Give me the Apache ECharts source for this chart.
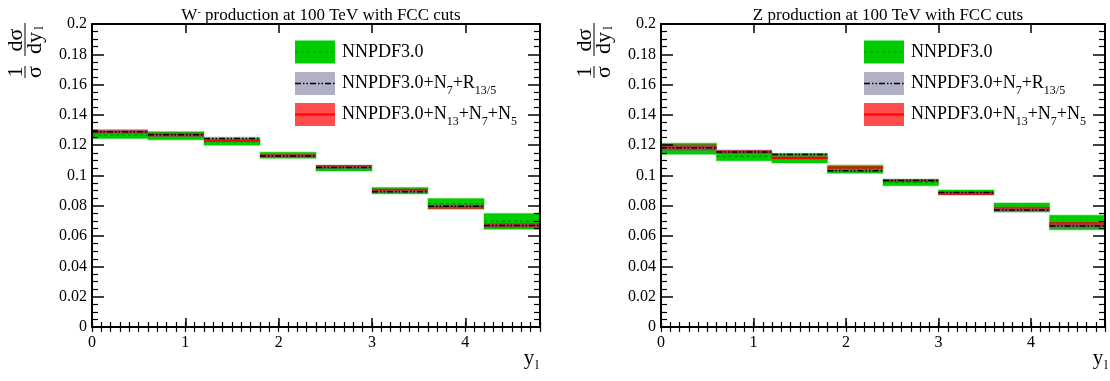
<!DOCTYPE html>
<html>
<head>
<meta charset="utf-8">
<script src="https://cdn.jsdelivr.net/npm/echarts@6/dist/echarts.min.js"></script>
<style>
  html, body { margin: 0; padding: 0; background: #fff; }
  #main { width: 1110px; height: 381px; }
</style>
</head>
<body>
<div id="main"></div>
<script>
// rapidity bins of the lepton, width 0.6
const binLow = [0, 0.6, 1.2, 1.8, 2.4, 3.0, 3.6, 4.2];
const binHigh = [0.6, 1.2, 1.8, 2.4, 3.0, 3.6, 4.2, 4.8];

const titles = ['W{sup|-} production at 100 TeV with FCC cuts', 'Z production at 100 TeV with FCC cuts'];

// W- panel : central value and half width of each band
const wNnpdf = [0.1266, 0.1262, 0.1222, 0.1134, 0.1048, 0.0900, 0.0815, 0.0698];
const wNnpdfErr = [0.0021, 0.0026, 0.0023, 0.0020, 0.0019, 0.0020, 0.0034, 0.0052];
const wR135 = [0.1288, 0.1269, 0.1244, 0.1128, 0.1052, 0.0893, 0.0797, 0.0670];
const wR135Err = [0.0014, 0.0013, 0.0012, 0.0011, 0.0009, 0.0010, 0.0013, 0.0015];
const wN1375 = [0.1289, 0.1270, 0.1231, 0.1130, 0.1060, 0.0905, 0.0792, 0.0670];
const wN1375Err = [0.0014, 0.0013, 0.0008, 0.0010, 0.0007, 0.0007, 0.0014, 0.0015];

// Z panel
const zNnpdf = [0.1177, 0.1126, 0.1114, 0.1041, 0.0954, 0.0888, 0.0789, 0.0690];
const zNnpdfErr = [0.0036, 0.0028, 0.0032, 0.0026, 0.0021, 0.0016, 0.0029, 0.0048];
const zR135 = [0.1183, 0.1155, 0.1138, 0.1032, 0.0967, 0.0887, 0.0773, 0.0666];
const zR135Err = [0.0020, 0.0013, 0.0011, 0.0011, 0.0008, 0.0010, 0.0015, 0.0017];
const zN1375 = [0.1186, 0.1157, 0.1116, 0.1052, 0.0965, 0.0879, 0.0779, 0.0678];
const zN1375Err = [0.0019, 0.0013, 0.0009, 0.0008, 0.0008, 0.0008, 0.0014, 0.0015];

const legendNames = ['NNPDF3.0', 'NNPDF3.0+N{s|7}+R{s|13/5}', 'NNPDF3.0+N{s|13}+N{s|7}+N{s|5}'];

const FONT = '"Liberation Serif", "DejaVu Serif", serif';
const GREEN = '#00cc00';
const RED_BAND = 'rgba(255,0,0,0.7)';
const GRAY_BAND = 'rgba(100,100,140,0.5)';
const lineStyles = [
  { stroke: '#008800', lineWidth: 1, lineDash: [3, 3] },
  { stroke: '#ff0000', lineWidth: 2 },
  { stroke: '#000', lineWidth: 1.5, lineDash: [6, 2, 1.5, 2, 1.5, 2] }
];

const grids = [
  { left: 92, top: 24, width: 448, height: 303 },
  { left: 661, top: 24, width: 444, height: 303 }
];

const chart = echarts.init(document.getElementById('main'), null, { renderer: 'canvas' });

function xAxes(g) {
  const base = {
    type: 'value', gridIndex: g, min: 0, max: 4.8, z: 5,
    splitLine: { show: false },
    axisLine: { show: true, onZero: false, lineStyle: { color: '#000', width: 2 } },
    axisLabel: { show: false }
  };
  return [
    Object.assign({}, base, {
      position: 'bottom', interval: 1,
      axisTick: { inside: true, length: 9, lineStyle: { color: '#000', width: 1.5 } },
      axisLabel: { show: true, showMaxLabel: false, fontFamily: FONT, fontSize: 16, color: '#000', margin: 8 }
    }),
    Object.assign({}, base, {
      position: 'bottom', interval: 0.1, axisLine: { show: false },
      axisTick: { inside: true, length: 5, lineStyle: { color: '#000', width: 1.2 } }
    }),
    Object.assign({}, base, {
      position: 'top', interval: 1,
      axisTick: { inside: true, length: 9, lineStyle: { color: '#000', width: 1.5 } }
    }),
    Object.assign({}, base, {
      position: 'top', interval: 0.1, axisLine: { show: false },
      axisTick: { inside: true, length: 5, lineStyle: { color: '#000', width: 1.2 } }
    })
  ];
}

function yAxes(g) {
  const base = {
    type: 'value', gridIndex: g, min: 0, max: 0.2, interval: 0.02, z: 5,
    splitLine: { show: false },
    axisLine: { show: true, onZero: false, lineStyle: { color: '#000', width: 2 } },
    axisTick: { inside: true, length: 12, lineStyle: { color: '#000', width: 1.5 } },
    minorTick: { show: true, splitNumber: 4, length: 6, lineStyle: { color: '#000', width: 1.2 } }
  };
  return [
    Object.assign({}, base, {
      position: 'left',
      axisLabel: { fontFamily: FONT, fontSize: 16, color: '#000', margin: 5 }
    }),
    Object.assign({}, base, { position: 'right', axisLabel: { show: false } })
  ];
}

function rows(c, e) {
  return binLow.map((lo, i) => [lo, binHigh[i], c[i], e[i]]);
}

function bandSeries(g, c, e, fill, stroke) {
  return {
    type: 'custom', xAxisIndex: g * 4, yAxisIndex: g * 2, z: 2,
    data: rows(c, e),
    encode: { x: [0, 1], y: 2 },
    renderItem: (params, api) => {
      const c0 = api.value(2), e0 = api.value(3);
      const p0 = api.coord([api.value(0), c0 + e0]);
      const p1 = api.coord([api.value(1), c0 - e0]);
      return {
        type: 'rect',
        shape: { x: p0[0], y: p0[1], width: p1[0] - p0[0], height: p1[1] - p0[1] },
        style: stroke ? { fill: fill, stroke: stroke, lineWidth: 1.5 } : { fill: fill }
      };
    }
  };
}

function centralSeries(g, c, e, style) {
  return {
    type: 'custom', xAxisIndex: g * 4, yAxisIndex: g * 2, z: 2,
    data: rows(c, e),
    encode: { x: [0, 1], y: 2 },
    renderItem: (params, api) => {
      const p0 = api.coord([api.value(0), api.value(2)]);
      const p1 = api.coord([api.value(1), api.value(2)]);
      return {
        type: 'line',
        shape: { x1: p0[0], y1: p0[1], x2: p1[0], y2: p1[1] },
        style: Object.assign({ fill: null }, style)
      };
    }
  };
}

// each band is followed by its own central line, like the ROOT drawing order
function panelSeries(g, nn, nnErr, r, rErr, n, nErr) {
  return [
    bandSeries(g, nn, nnErr, GREEN, 'rgba(0,204,0,0.35)'),
    centralSeries(g, nn, nnErr, lineStyles[0]),
    bandSeries(g, n, nErr, RED_BAND),
    centralSeries(g, n, nErr, lineStyles[1]),
    bandSeries(g, r, rErr, GRAY_BAND),
    centralSeries(g, r, rErr, lineStyles[2])
  ];
}

// legend, y title and axis name drawn as graphic for each panel
function panelGraphics(g) {
  const dx = grids[g].left - grids[0].left;
  const out = [];
  const fills = [GREEN, 'rgb(177,177,197)', 'rgb(255,77,77)'];
  const lineOrder = [0, 2, 1];
  const rowY = [52, 83.5, 114.5];
  for (let i = 0; i < 3; i++) {
    out.push({
      type: 'rect', z: 10,
      shape: { x: 295 + dx, y: rowY[i] - 11.5, width: 40, height: 23 },
      style: { fill: fills[i] }
    });
    out.push({
      type: 'line', z: 11,
      shape: { x1: 295 + dx, y1: rowY[i], x2: 335 + dx, y2: rowY[i] },
      style: Object.assign({ fill: null }, lineStyles[lineOrder[i]])
    });
    out.push({
      type: 'text', z: 11, x: 342 + dx, y: rowY[i] - 10,
      style: {
        text: legendNames[i], fill: '#000',
        rich: {
          s: { fontFamily: FONT, fontSize: 12, lineHeight: 12, padding: [11, 0, 0, 0], verticalAlign: 'top' }
        },
        fontFamily: FONT, fontSize: 18, lineHeight: 20, verticalAlign: 'top', textVerticalAlign: 'top'
      }
    });
  }
  const f = '22px ' + FONT;
  const txt = (x, y, s, font) => ({
    type: 'text', x: x, y: y,
    style: { text: s, font: font || f, fill: '#000', textAlign: 'center', textVerticalAlign: 'middle' }
  });
  out.push({
    type: 'group', x: 25 + dx, y: 78, rotation: Math.PI / 2, z: 10,
    children: [
      txt(6, -9, '1'),
      { type: 'line', shape: { x1: 0, y1: 0, x2: 12, y2: 0 }, style: { stroke: '#000', lineWidth: 1 } },
      txt(6, 10, 'σ'),
      txt(38, -9, 'dσ'),
      { type: 'line', shape: { x1: 22, y1: 0, x2: 55, y2: 0 }, style: { stroke: '#000', lineWidth: 1 } },
      txt(35, 10, 'dy'),
      txt(50, 15, 'l', '13px ' + FONT)
    ]
  });
  out.push(Object.assign(txt(529 + dx, 358, 'y', '21px ' + FONT), { z: 10 }));
  out.push(Object.assign(txt(537 + dx, 366, 'l', '13px ' + FONT), { z: 10 }));
  return out;
}

chart.setOption({
  animation: false,
  backgroundColor: '#fff',
  title: titles.map((t, g) => ({
    text: t,
    left: grids[g].left + grids[g].width / 2,
    top: 2,
    textAlign: 'center',
    textStyle: {
      fontFamily: FONT, fontSize: 17, fontWeight: 'normal', color: '#000',
      rich: {
        sup: { fontFamily: FONT, fontSize: 10, verticalAlign: 'top', lineHeight: 10 }
      }
    }
  })),
  grid: grids,
  xAxis: xAxes(0).concat(xAxes(1)),
  yAxis: yAxes(0).concat(yAxes(1)),
  series: panelSeries(0, wNnpdf, wNnpdfErr, wR135, wR135Err, wN1375, wN1375Err)
    .concat(panelSeries(1, zNnpdf, zNnpdfErr, zR135, zR135Err, zN1375, zN1375Err)),
  graphic: panelGraphics(0).concat(panelGraphics(1))
});
</script>
</body>
</html>
